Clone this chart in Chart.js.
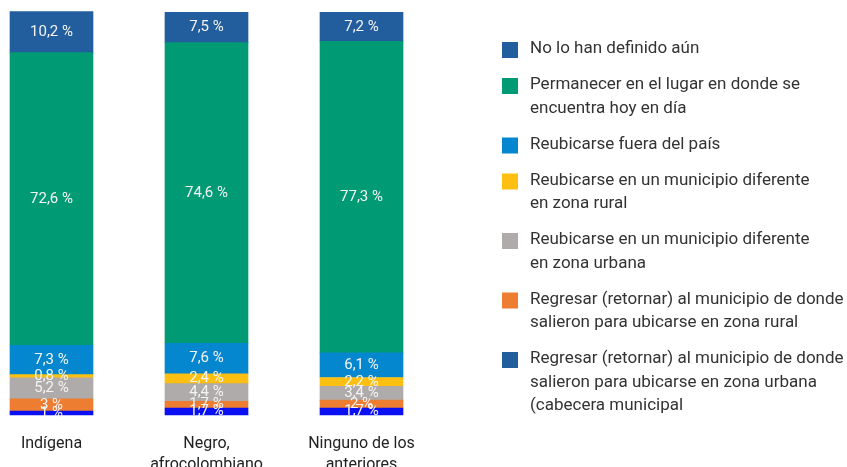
<!DOCTYPE html>
<html lang="es">
<head>
<meta charset="utf-8">
<script src="https://cdn.jsdelivr.net/npm/chart.js@4.4.1/dist/chart.umd.min.js"></script>
<style>
  html, body { margin: 0; padding: 0; background: #fff; }
</style>
</head>
<body>
<canvas id="graficoIntencion" width="847" height="467"></canvas>
<script>
var categorias = [["Indígena"], ["Negro,", "afrocolombiano"], ["Ninguno de los", "anteriores"]];

// valores en %, de la base de la barra hacia arriba
var regresarUrbana = [1, 1.7, 1.7];
var regresarRural = [3, 1.7, 2];
var otroMunicipioUrbana = [5.2, 4.4, 3.4];
var otroMunicipioRural = [0.8, 2.4, 2.2];
var fueraPais = [7.3, 7.6, 6.1];
var permanecer = [72.6, 74.6, 77.3];
var noDefinido = [10.2, 7.5, 7.2];

var nombresSeries = [
    ["Regresar (retornar) al municipio de donde", "salieron para ubicarse en zona urbana", "(cabecera municipal"],
    ["Regresar (retornar) al municipio de donde", "salieron para ubicarse en zona rural"],
    ["Reubicarse en un municipio diferente", "en zona urbana"],
    ["Reubicarse en un municipio diferente", "en zona rural"],
    ["Reubicarse fuera del país"],
    ["Permanecer en el lugar en donde se", "encuentra hoy en día"],
    ["No lo han definido aún"]
];
var valoresSeries = [regresarUrbana, regresarRural, otroMunicipioUrbana, otroMunicipioRural, fueraPais, permanecer, noDefinido];
var coloresBarra = ["#0a10f2", "#ed7d31", "#aeabaa", "#fdc012", "#0587d0", "#009b74", "#225e9d"];
var coloresLeyenda = ["#225e9d", "#ed7d31", "#aeabaa", "#fdc012", "#0587d0", "#009b74", "#225e9d"];

var fuente = "Roboto, 'Liberation Sans', sans-serif";

function formatoPct(v) {
    return String(v).replace(".", ",") + " %";
}

// etiqueta blanca en el centro de cada segmento
var etiquetasSegmentos = {
    id: "etiquetasSegmentos",
    afterDatasetsDraw: function (chart) {
        var ctx = chart.ctx;
        ctx.save();
        ctx.font = "15px " + fuente;
        ctx.fillStyle = "#f4f4f4";
        ctx.textAlign = "center";
        ctx.textBaseline = "middle";
        chart.data.datasets.forEach(function (ds, i) {
            var meta = chart.getDatasetMeta(i);
            meta.data.forEach(function (bar, j) {
                var y = (bar.y + bar.base) / 2;
                ctx.fillText(formatoPct(ds.data[j]), bar.x, y);
            });
        });
        ctx.restore();
    }
};

// leyenda a la derecha, en orden inverso al de la pila
var leyendaLateral = {
    id: "leyendaLateral",
    afterDraw: function (chart) {
        var ctx = chart.ctx;
        var x = 502, y = 49, alto = 23.5;
        ctx.save();
        ctx.font = "17px " + fuente;
        ctx.textBaseline = "middle";
        ctx.textAlign = "left";
        var ds = chart.data.datasets.slice().reverse();
        ds.forEach(function (d) {
            ctx.fillStyle = d.colorLeyenda;
            ctx.fillRect(x, y - 7, 16, 16);
            ctx.fillStyle = "#333";
            d.lineas.forEach(function (t, k) {
                ctx.fillText(t, x + 28, y + k * alto);
            });
            y += d.lineas.length * alto + 12.5;
        });
        ctx.restore();
    }
};

var datasets = valoresSeries.map(function (vals, i) {
    return {
        label: nombresSeries[i].join(" "),
        lineas: nombresSeries[i],
        data: vals,
        backgroundColor: coloresBarra[i],
        colorLeyenda: coloresLeyenda[i],
        borderWidth: 0,
        barThickness: 83,
        clip: false
    };
});

new Chart(document.getElementById("graficoIntencion"), {
    type: "bar",
    data: { labels: categorias, datasets: datasets },
    options: {
        responsive: false,
        animation: false,
        layout: { padding: { left: 51.5, right: 485.5, top: 12, bottom: 0 } },
        plugins: {
            legend: { display: false },
            tooltip: { enabled: false }
        },
        scales: {
            x: {
                stacked: true,
                offset: false,
                grid: { display: false, drawTicks: false },
                border: { display: false },
                ticks: {
                    color: "#222",
                    font: { family: fuente, size: 16, lineHeight: 1.3 },
                    padding: 19,
                    maxRotation: 0,
                    autoSkip: false
                },
                afterFit: function (s) { s.height = 52; }
            },
            y: {
                stacked: true,
                display: false,
                min: 0,
                max: 100
            }
        }
    },
    plugins: [etiquetasSegmentos, leyendaLateral]
});
</script>
</body>
</html>
